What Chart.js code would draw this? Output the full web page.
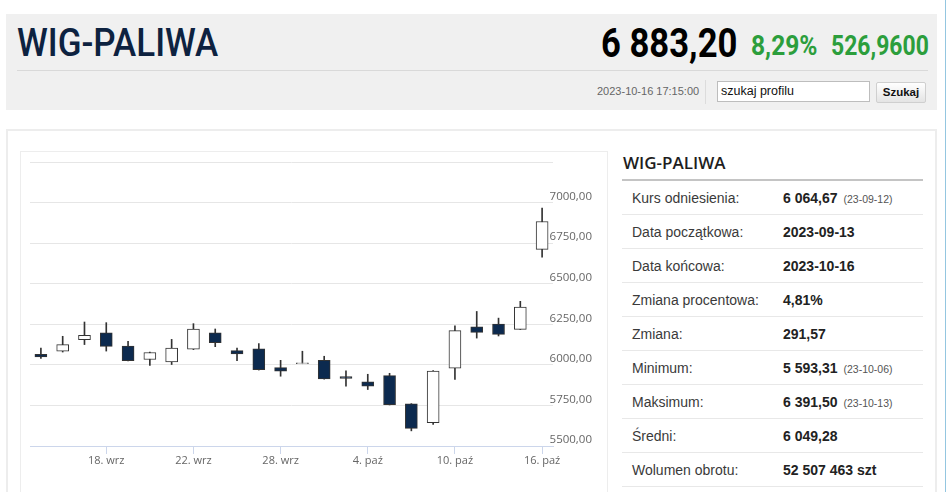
<!DOCTYPE html>
<html lang="pl">
<head>
<meta charset="utf-8">
<title>WIG-PALIWA</title>
<script src="https://cdn.jsdelivr.net/npm/chart.js@4.4.0/dist/chart.umd.min.js"></script>
<style>
  html, body { margin: 0; padding: 0; background: #fff; }
  body { width: 948px; height: 492px; overflow: hidden; position: relative; font-family: "Liberation Sans", Arial, sans-serif; }
  .abs { position: absolute; white-space: nowrap; }
  #hdr { left: 6px; top: 14px; width: 931px; height: 96px; background: #f0f0f0; }
  .cond { transform-origin: left top; font-family: Roboto, sans-serif; line-height: 1; }
  #title { left: 17px; top: 24px; font-size: 38px; font-weight: 500; color: #0d2240; transform: scaleX(0.92); }
  #price { left: 601px; top: 24px; font-size: 40px; font-weight: 700; color: #000; transform: scaleX(0.866); }
  #pct { left: 751px; top: 33px; font-size: 27px; font-weight: 700; color: #2c9e3c; transform: scaleX(0.91); }
  #chg { left: 831px; top: 33px; font-size: 27px; font-weight: 700; color: #2c9e3c; transform: scaleX(0.85); }
  #hline { left: 17px; top: 70px; width: 911px; height: 1px; background: #d9d9d9; }
  #stamp { left: 597px; top: 85px; font-size: 11px; color: #666; }
  #vsep { left: 705px; top: 80px; width: 1px; height: 24px; background: #dcdcdc; }
  #search { left: 717px; top: 81px; width: 153px; height: 21px; box-sizing: border-box; border: 1px solid #bdbdbd; background: #fff; font-size: 12.5px; line-height: 19px; padding-left: 3px; color: #111; }
  #btn { left: 876px; top: 82px; width: 50px; height: 21px; box-sizing: border-box; border: 1px solid #cfcfcf; border-radius: 2px; background: linear-gradient(#ffffff, #e4e4e4); font-size: 11.5px; font-weight: 700; line-height: 19px; text-align: center; color: #111; }
  #box { left: 6px; top: 129px; width: 931px; height: 420px; box-sizing: border-box; border: 2px solid #ededed; }
  #chartBox { left: 20px; top: 151px; width: 588px; height: 400px; box-sizing: border-box; border: 1px solid #ededed; }
  #chartWrap { left: 21px; top: 152px; width: 585px; height: 330px; }
  #sideTitle { left: 623px; top: 152px; font-family: "Open Sans", sans-serif; font-size: 17px; font-weight: 600; color: #1e1e1e; line-height: 22px; }
  #sideLine { left: 622px; top: 179px; width: 301px; height: 2px; background: #c4c4c4; }
  #stats { left: 622px; top: 181px; width: 301px; border-collapse: collapse; }
  #stats td { height: 33px; border-bottom: 1px solid #e8e8e8; padding: 0; font-size: 14px; vertical-align: middle; }
  #stats td.k { padding-left: 10px; width: 151px; color: #3a3a3a; }
  #stats td.v { font-weight: 700; color: #222; }
  #stats small { font-size: 10.5px; font-weight: 400; color: #555; margin-left: 6px; }
  #edge { left: 945px; top: 0; width: 1px; height: 492px; background: #94c6e0; }
</style>
</head>
<body>
<div id="hdr" class="abs"></div>
<div id="title" class="abs cond">WIG-PALIWA</div>
<div id="price" class="abs cond">6 883,20</div>
<div id="pct" class="abs cond">8,29%</div>
<div id="chg" class="abs cond">526,9600</div>
<div id="hline" class="abs"></div>
<div id="stamp" class="abs">2023-10-16 17:15:00</div>
<div id="vsep" class="abs"></div>
<div id="search" class="abs">szukaj profilu</div>
<div id="btn" class="abs">Szukaj</div>

<div id="box" class="abs"></div>
<div id="chartBox" class="abs"></div>
<div id="chartWrap" class="abs"><canvas id="candles" width="585" height="330"></canvas></div>

<div id="sideTitle" class="abs">WIG-PALIWA</div>
<div id="sideLine" class="abs"></div>
<table id="stats" class="abs">
  <tr><td class="k">Kurs odniesienia:</td><td class="v">6 064,67<small>(23-09-12)</small></td></tr>
  <tr><td class="k">Data początkowa:</td><td class="v">2023-09-13</td></tr>
  <tr><td class="k">Data końcowa:</td><td class="v">2023-10-16</td></tr>
  <tr><td class="k">Zmiana procentowa:</td><td class="v">4,81%</td></tr>
  <tr><td class="k">Zmiana:</td><td class="v">291,57</td></tr>
  <tr><td class="k">Minimum:</td><td class="v">5 593,31<small>(23-10-06)</small></td></tr>
  <tr><td class="k">Maksimum:</td><td class="v">6 391,50<small>(23-10-13)</small></td></tr>
  <tr><td class="k">Średni:</td><td class="v">6 049,28</td></tr>
  <tr><td class="k">Wolumen obrotu:</td><td class="v">52 507 463 szt</td></tr>
</table>
<div id="edge" class="abs"></div>

<script>
// Trading days shown on the chart
const days = [
    '2023-09-13', '2023-09-14', '2023-09-15', '2023-09-18', '2023-09-19', '2023-09-20',
    '2023-09-21', '2023-09-22', '2023-09-25', '2023-09-26', '2023-09-27', '2023-09-28',
    '2023-09-29', '2023-10-02', '2023-10-03', '2023-10-04', '2023-10-05', '2023-10-06',
    '2023-10-09', '2023-10-10', '2023-10-11', '2023-10-12', '2023-10-13', '2023-10-16'
];

// OHLC values
const openVals  = [6065, 6084, 6155, 6198, 6116, 6033, 6018, 6096, 6198, 6088, 6098, 5983,
                   6008, 6028, 5928, 5895, 5934, 5760, 5643, 5979, 6235, 6251, 6219, 6712];
const highVals  = [6104, 6176, 6264, 6260, 6145, 6078, 6157, 6254, 6221, 6104, 6131, 6028,
                   6084, 6053, 5963, 5942, 5948, 5761, 5965, 6241, 6329, 6288, 6391.5, 6966];
const lowVals   = [6039, 6079, 6125, 6085, 6024, 5996, 6002, 6094, 6112, 6026, 5968, 5930,
                   6007, 5912, 5869, 5848, 5753, 5593.31, 5633, 5910, 6165, 6178, 6218, 6663];
const closeVals = [6049, 6125, 6182, 6114, 6026, 6076, 6104, 6221, 6137, 6067, 5971, 5961,
                   6013, 5913, 5916, 5869, 5754, 5609, 5961, 6211, 6200, 6188, 6356.24, 6883.2];

// x-axis tick labels
const tickDays   = ['2023-09-18', '2023-09-22', '2023-09-28', '2023-10-04', '2023-10-10', '2023-10-16'];
const tickLabels = ['18. wrz', '22. wrz', '28. wrz', '4. paź', '10. paź', '16. paź'];

// y-axis range
const yMin = 5500;
const yMax = 7250;
const yStep = 250;

const upColor = '#ffffff';
const downColor = '#0c2a4f';
const lineColor = '#333333';

const bodies = days.map((d, i) => [openVals[i], closeVals[i]]);
const wicks = days.map((d, i) => [lowVals[i], highVals[i]]);
const bodyColors = days.map((d, i) => closeVals[i] >= openVals[i] ? upColor : downColor);

const ctx = document.getElementById('candles').getContext('2d');

new Chart(ctx, {
    type: 'bar',
    data: {
        labels: days,
        datasets: [
            {
                label: 'body',
                data: bodies,
                backgroundColor: bodyColors,
                borderColor: lineColor,
                borderWidth: 1,
                borderSkipped: false,
                barThickness: 12,
                grouped: false
            },
            {
                label: 'wick',
                data: wicks,
                backgroundColor: lineColor,
                barThickness: 1,
                grouped: false
            }
        ]
    },
    options: {
        responsive: false,
        animation: false,
        layout: {
            padding: { left: 9, top: 10, right: 0, bottom: 0 }
        },
        plugins: {
            legend: { display: false },
            tooltip: { enabled: false }
        },
        scales: {
            x: {
                offset: true,
                grid: {
                    offset: false,
                    drawOnChartArea: false,
                    drawTicks: true,
                    tickLength: 8,
                    color: c => tickDays.includes(days[c.index]) ? '#ccd6eb' : 'rgba(0,0,0,0)'
                },
                border: { display: true, color: '#ccd6eb' },
                ticks: {
                    autoSkip: false,
                    maxRotation: 0,
                    padding: 0,
                    color: '#666666',
                    font: { family: 'Open Sans', size: 11 },
                    callback: function(value, index) {
                        const k = tickDays.indexOf(days[index]);
                        return k >= 0 ? tickLabels[k] : '';
                    }
                },
                afterFit: scale => { scale.height = 36; }
            },
            y: {
                position: 'right',
                min: yMin,
                max: yMax,
                grid: {
                    drawTicks: false,
                    color: c => c.tick && c.tick.value === yMin ? 'rgba(0,0,0,0)' : '#e6e6e6'
                },
                border: { display: false },
                ticks: {
                    stepSize: yStep,
                    mirror: true,
                    padding: 39,
                    labelOffset: -6,
                    color: '#666666',
                    font: { family: 'Open Sans', size: 11.5 },
                    callback: function(value) {
                        if (value === yMax) return '';
                        return value.toFixed(2).replace('.', ',');
                    }
                },
                afterFit: scale => {
                    // labels sit above their lines, so no extra vertical room is needed
                    scale.width = 53;
                    scale.paddingTop = 0;
                    scale.paddingBottom = 0;
                }
            }
        }
    }
});
</script>
</body>
</html>
